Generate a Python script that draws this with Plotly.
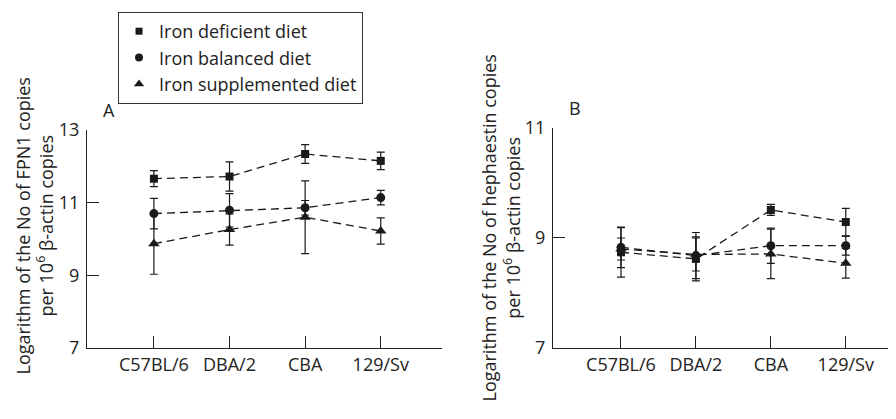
import plotly.graph_objects as go

# ---------------- data ----------------
strains = ["C57BL/6", "DBA/2", "CBA", "129/Sv"]
diets = ["Iron deficient diet", "Iron balanced diet", "Iron supplemented diet"]

# Panel A: FPN1
fpn1_deficient = [11.66, 11.72, 12.34, 12.15]
fpn1_deficient_err = [0.22, 0.40, 0.26, 0.24]
fpn1_balanced = [10.70, 10.79, 10.86, 11.14]
fpn1_balanced_err = [0.42, 0.46, 0.20, 0.20]
fpn1_supplemented = [9.87, 10.26, 10.60, 10.22]
fpn1_supplemented_err = [0.84, 0.43, 1.00, 0.36]

# Panel B: hephaestin
heph_deficient = [8.74, 8.62, 9.51, 9.29]
heph_deficient_err = [0.45, 0.40, 0.10, 0.25]
heph_balanced = [8.83, 8.68, 8.86, 8.86]
heph_balanced_err = [0.37, 0.42, 0.32, 0.17]
heph_supplemented = [8.80, 8.70, 8.71, 8.54]
heph_supplemented_err = [0.20, 0.30, 0.45, 0.27]

yticks_a = [7, 9, 11, 13]
yticks_b = [7, 9, 11]

# ---------------- style ----------------
FONT = "Open Sans"
INK = "#1a1a1a"
TXT = "#222"
FS = 18
symbols = ["square", "circle", "triangle-up"]
sizes = [8, 9, 10]

# page body has an 8px default margin; figure is sized to fill the rest
W, H = 888, 411

fig = go.Figure()

panels = [
    ("x", "y", [fpn1_deficient, fpn1_balanced, fpn1_supplemented],
     [fpn1_deficient_err, fpn1_balanced_err, fpn1_supplemented_err]),
    ("x2", "y2", [heph_deficient, heph_balanced, heph_supplemented],
     [heph_deficient_err, heph_balanced_err, heph_supplemented_err]),
]

for xa, ya, series, errs in panels:
    for i in range(3):
        fig.add_trace(go.Scatter(
            x=strains, y=series[i], xaxis=xa, yaxis=ya,
            mode="lines+markers",
            line=dict(color=INK, width=1.3, dash="8px,5px"),
            marker=dict(symbol=symbols[i], size=sizes[i], color=INK),
            error_y=dict(type="data", array=errs[i], visible=True,
                         color=INK, thickness=1.2, width=4),
            showlegend=False, cliponaxis=False,
        ))

# legend entries (markers only)
for i in range(3):
    fig.add_trace(go.Scatter(
        x=[None], y=[None], mode="markers", name=diets[i],
        marker=dict(symbol=symbols[i], size=sizes[i] - 1, color=INK),
        showlegend=True,
    ))

axis_common = dict(
    showline=True, linecolor="#222", linewidth=1.2,
    ticks="inside", ticklen=12, tickcolor="#222", tickwidth=1.2,
    showgrid=False, zeroline=False, automargin=False,
    tickfont=dict(family=FONT, size=FS, color=TXT),
)

fig.update_layout(
    width=W, height=H,
    margin=dict(l=0, r=0, t=0, b=0, pad=0, autoexpand=False),
    paper_bgcolor="white", plot_bgcolor="white",
    font=dict(family=FONT, size=FS, color=TXT),
    xaxis=dict(domain=[0.08896, 0.48874], type="category",
               categoryorder="array", categoryarray=strains,
               range=[-0.885, 3.81], anchor="y", **axis_common),
    yaxis=dict(domain=[0.17275, 0.70316], range=[7, 13], tickvals=yticks_a,
               anchor="x", ticklabelstandoff=3, **axis_common),
    xaxis2=dict(domain=[0.61374, 0.99662], type="category",
                categoryorder="array", categoryarray=strains,
                range=[-0.907, 3.63], anchor="y2", **axis_common),
    yaxis2=dict(domain=[0.17275, 0.70803], range=[7, 11], tickvals=yticks_b,
                anchor="x2", ticklabelstandoff=3, **axis_common),
    legend=dict(x=0.1239, y=0.99027, xanchor="left", yanchor="top",
                bordercolor="#333", borderwidth=1, bgcolor="white",
                font=dict(family=FONT, size=FS, color=TXT),
                itemwidth=30),
    annotations=[
        dict(text="Logarithm of the No of FPN1 copies<br>per 10<sup>6</sup> β-actin copies",
             textangle=-90, xref="paper", yref="paper", x=0.02984, y=0.4696,
             xanchor="center", yanchor="middle", showarrow=False,
             font=dict(family=FONT, size=FS, color=TXT)),
        dict(text="Logarithm of the No of hephaestin copies<br>per 10<sup>6</sup> β-actin copies",
             textangle=-90, xref="paper", yref="paper", x=0.5546, y=0.4647,
             xanchor="center", yanchor="middle", showarrow=False,
             font=dict(family=FONT, size=FS, color=TXT)),
        dict(text="A", xref="paper", yref="paper", x=0.11374, y=0.7518,
             xanchor="center", yanchor="middle", showarrow=False,
             font=dict(family=FONT, size=FS, color=TXT)),
        dict(text="B", xref="paper", yref="paper", x=0.6385, y=0.7567,
             xanchor="center", yanchor="middle", showarrow=False,
             font=dict(family=FONT, size=FS, color=TXT)),
    ],
)

fig.write_html("out.html")
